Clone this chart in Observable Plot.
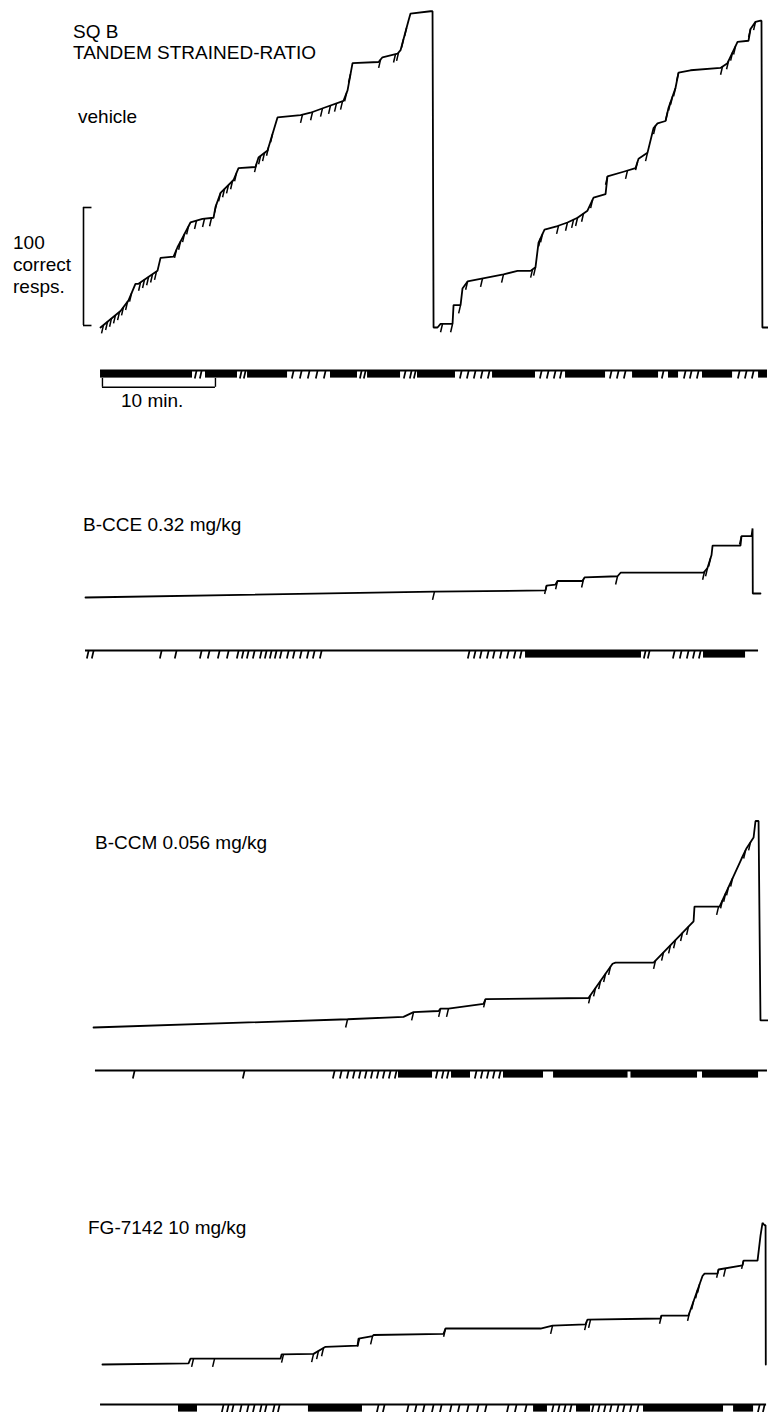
<!DOCTYPE html>
<html><head><meta charset="utf-8">
<script src="https://cdn.jsdelivr.net/npm/d3@7"></script>
<script src="https://cdn.jsdelivr.net/npm/@observablehq/plot@0.6"></script>
<style>
html,body{margin:0;padding:0;background:#fff;}
#page{position:relative;width:768px;height:1412px;overflow:hidden;font-family:"Liberation Sans",Arial,sans-serif;}
#page svg{position:absolute;left:0;top:0;overflow:visible;background:transparent;}
.lbl{position:absolute;font-size:19px;line-height:22px;color:#000;white-space:nowrap;}
</style></head><body><div id="page"></div>
<script>
// ---------- DATA (time in minutes, cumulative correct responses; pen resets shown as drops) ----------
const vehicleRecord = [[1.33,0],[3.10,14],[3.81,23],[4.42,37],[4.69,37],[6.37,48],[6.64,59],[7.79,60],[8.14,68],[8.58,76],[9.29,89],[10.35,92],[11.33,93],[11.50,102],[11.95,114],[13.10,125],[13.54,135],[15.04,136],[15.31,144],[16.11,150],[16.99,178],[19.03,180],[19.91,182],[21.06,186],[22.83,192],[23.19,201],[23.63,224],[25.93,225],[26.28,229],[27.61,232],[27.88,235],[28.58,260],[28.76,266],[30.53,268],[30.71,268],[30.80,0],[31.15,0],[31.42,3],[32.48,3],[32.57,19],[33.19,19],[33.36,33],[33.81,39],[36.99,45],[38.23,48],[39.38,48],[39.82,51],[40.09,72],[40.62,83],[41.77,86],[42.65,89],[43.54,93],[44.42,99],[44.96,110],[46.02,113],[46.19,128],[47.61,132],[48.67,135],[48.94,143],[49.73,148],[50.27,169],[50.62,173],[51.33,175],[51.59,186],[52.21,203],[52.48,216],[53.54,218],[56.19,220],[56.81,224],[57.70,242],[58.67,243],[58.85,253],[59.29,259],[59.73,260],[59.82,260],[59.90,0],[60.44,0]];
const vehiclePips = [1.59,1.95,2.30,2.65,3.01,3.36,3.72,4.07,4.87,5.22,5.58,5.93,6.28,8.05,8.41,8.76,9.12,9.82,10.53,11.15,11.59,11.95,12.30,12.65,13.01,13.36,15.13,15.49,15.84,16.19,16.55,19.20,20.09,20.97,21.68,22.21,22.74,23.10,23.45,26.11,27.43,27.70,28.14,28.41,31.59,32.48,33.19,33.81,35.13,36.99,39.56,39.82,40.27,40.44,41.86,42.65,43.19,43.54,44.07,44.87,46.19,47.96,48.85,49.73,50.44,51.50,51.77,51.95,52.21,52.48,56.37,56.90,57.26,57.52,58.85,59.29];
const vehicleEventLine = [1.33,60.35];
const vehicleEventBands = [[1.33,9.47],[10.62,13.45],[14.34,17.88],[21.68,24.07],[24.96,27.88],[29.38,32.74],[36.02,39.82],[42.48,46.02],[48.41,50.71],[51.59,52.48],[54.6,57.26],[59.56,60.35]];
const vehicleEventTicks = [9.73,10.18,13.72,14.07,18.32,19.03,19.73,20.44,21.15,24.34,24.69,28.23,28.76,29.12,33.19,33.81,34.42,35.04,35.66,40.27,40.88,41.50,42.04,46.46,47.08,47.70,51.06,53.01,53.54,54.16,57.79,58.41,59.03];

const bcceRecord = [[0,0],[30.88,5],[40.71,6],[40.80,10],[41.59,11],[41.77,14],[43.98,14],[44.16,17],[47.08,18],[47.35,21],[54.69,21],[55.04,25],[55.40,36],[55.49,44],[57.96,44],[58.05,52],[58.94,52],[59.03,58.5],[59.05,3.4],[59.73,3.4]];
const bccePips = [30.88,40.80,41.77,44.07,47.08,54.78,55.04,55.31,58.05];
const bcceEventLine = [0,59.56];
const bcceEventBands = [[38.94,49.2],[54.69,58.41]];
const bcceEventTicks = [0.18,0.62,6.64,7.96,10.18,10.88,11.77,12.57,13.45,13.89,14.34,14.87,15.49,15.93,16.37,16.81,17.26,17.88,18.41,19.03,19.65,20.18,20.80,33.89,34.42,34.96,35.58,36.11,36.73,37.35,37.96,38.50,49.47,49.82,52.04,52.65,53.27,53.81,54.34];

const bccmRecord = [[0.71,0],[23.19,7],[28.14,9],[29.03,13],[31.24,14],[31.42,16],[32.12,16],[35.22,20],[35.40,24],[44.51,25],[46.64,54],[46.90,55],[50.27,55],[53.81,90],[53.89,102.5],[56.11,102.5],[58.05,143],[58.50,152],[59.12,161],[59.29,175],[59.56,175],[59.73,6],[60.44,6]];
const bccmPips = [23.19,29.03,31.42,32.12,35.40,44.69,45.13,45.58,46.02,46.46,50.44,51.15,51.77,52.21,52.83,53.36,56.02,56.37,56.64,56.90,57.26,58.41,58.85];
const bccmEventLine = [0.88,60.35];
const bccmEventBands = [[27.70,30.71],[32.39,34.07],[36.99,40.53],[41.42,48.01],[48.27,54.16],[54.6,59.56]];
const bccmEventTicks = [4.25,13.98,21.95,22.57,23.19,23.72,24.25,24.78,25.31,25.84,26.37,26.90,27.43,31.06,31.59,32.04,34.51,35.04,35.58,36.11,36.64];

const fgRecord = [[1.50,0],[9.12,1],[9.29,5],[17.26,5],[17.35,8.5],[20.18,9],[21.24,15],[24.07,16],[24.16,22],[25.40,24],[25.49,25],[31.68,26],[31.86,30.5],[40.27,30.5],[41.33,33],[44.25,34],[44.42,38],[50.88,39],[50.97,41.5],[53.36,41.5],[54.60,75],[54.78,77],[55.93,77],[56.02,80.5],[58.14,84],[58.23,88],[59.47,88],[59.73,109],[59.91,120],[60.09,118],[60.18,118],[60.20,0]];
const fgPips = [9.56,11.42,17.52,20.18,20.62,21.06,24.25,25.40,31.86,41.33,44.34,44.69,50.97,53.45,53.81,54.16,54.34,56.02,56.64,58.23];
const fgEventLine = [1.33,60.27];
const fgEventBands = [[8.23,9.91],[19.73,24.51],[39.65,40.88],[43.45,44.69],[49.38,56.46],[57.35,59.12]];
const fgEventTicks = [12.12,12.57,13.01,13.72,14.34,14.87,15.49,15.93,16.64,17.08,25.84,26.37,28.5,29.2,29.91,30.71,31.42,32.3,33.01,33.81,34.69,35.4,37.35,38.05,38.94,41.33,41.86,42.39,42.92,44.87,45.4,45.93,46.46,47.08,47.61,48.23,48.85,59.56,60.0];

const panelTitles = [["SQ B","TANDEM STRAINED-RATIO"],["B-CCE 0.32 mg/kg"],["B-CCM 0.056 mg/kg"],["FG-7142 10 mg/kg"]];
const conditionLabel = "vehicle";
const responseScaleLabel = ["100","correct","resps."];
const responseScaleValue = 100;
const timeScaleLabel = "10 min.";
const timeScaleStart = 1.5;
const timeScaleMinutes = 10;
const sessionMinutes = 60.44;

// ---------- LAYOUT ----------
const W = 768, H = 1412;
const PX_PER_RESP = 1.18;
const X_RANGE = [85, 768];
const TICK_PX = 8;
const page = document.getElementById("page");

function cumAt(rec, t) {
  for (let i = 0; i < rec.length - 1; i++) {
    const [t0, r0] = rec[i], [t1, r1] = rec[i + 1];
    if (t >= t0 && t <= t1) return t1 === t0 ? r1 : r0 + (r1 - r0) * (t - t0) / (t1 - t0);
  }
  return rec[rec.length - 1][1];
}

function recordPlot(rec, pips, base, extra = []) {
  return Plot.plot({
    width: W, height: H, margin: 0,
    x: {domain: [0, sessionMinutes], range: X_RANGE, axis: null},
    y: {domain: [0, 100], range: [base, base - 100 * PX_PER_RESP], axis: null},
    marks: [
      Plot.line(rec, {x: d => d[0], y: d => d[1], stroke: "#000", strokeWidth: 1.8, strokeLinejoin: "miter"}),
      Plot.link(pips, {x1: t => t, y1: t => cumAt(rec, t), x2: t => t - 0.17, y2: t => cumAt(rec, t) - 7, stroke: "#000", strokeWidth: 1.5}),
      ...extra
    ]
  });
}

function eventPlot(line, bands, ticks, yLine, extra = []) {
  return Plot.plot({
    width: W, height: H, margin: 0,
    x: {domain: [0, sessionMinutes], range: X_RANGE, axis: null},
    y: {domain: [0, 1], range: [yLine, yLine + TICK_PX], axis: null},
    marks: [
      Plot.ruleY([0], {x1: line[0], x2: line[1], stroke: "#000", strokeWidth: 1.8}),
      Plot.rect(bands, {x1: d => d[0], x2: d => d[1], y1: () => 0, y2: () => 0.95, fill: "#000"}),
      Plot.link(ticks, {x1: t => t + 0.1, y1: () => 0, x2: t => t - 0.06, y2: () => 1, stroke: "#000", strokeWidth: 1.7}),
      ...extra
    ]
  });
}

const bracket = [
  Plot.ruleX([0], {y1: 0, y2: responseScaleValue, dx: -2, dy: -2, stroke: "#000", strokeWidth: 1.6}),
  Plot.ruleY([0, responseScaleValue], {x1: 0, x2: 0.75, dx: -2, dy: -2, stroke: "#000", strokeWidth: 1.6})
];
const timeBar = [
  Plot.ruleY([2.1], {x1: timeScaleStart, x2: timeScaleStart + timeScaleMinutes, stroke: "#000", strokeWidth: 1.4}),
  Plot.ruleX([timeScaleStart, timeScaleStart + timeScaleMinutes], {y1: 1.0, y2: 2.1, stroke: "#000", strokeWidth: 1.4}),
  Plot.text([timeScaleLabel], {x: timeScaleStart + timeScaleMinutes * 0.44, y: 3.75, fontSize: 19, fontFamily: "Liberation Sans, Arial, sans-serif", fill: "#000"})
];

const plots = [
  recordPlot(vehicleRecord, vehiclePips, 327, bracket),
  eventPlot(vehicleEventLine, vehicleEventBands, vehicleEventTicks, 370, timeBar),
  recordPlot(bcceRecord, bccePips, 597),
  eventPlot(bcceEventLine, bcceEventBands, bcceEventTicks, 650),
  recordPlot(bccmRecord, bccmPips, 1027),
  eventPlot(bccmEventLine, bccmEventBands, bccmEventTicks, 1070),
  recordPlot(fgRecord, fgPips, 1364),
  eventPlot(fgEventLine, fgEventBands, fgEventTicks, 1404)
];
for (const p of plots) page.appendChild(p);

function label(text, x, yCenter) {
  const d = document.createElement("div");
  d.className = "lbl";
  d.textContent = text;
  d.style.left = x + "px";
  d.style.top = (yCenter - 11) + "px";
  page.appendChild(d);
}
label(panelTitles[0][0], 73, 32);
label(panelTitles[0][1], 73, 53);
label(conditionLabel, 78, 117);
label(responseScaleLabel[0], 13, 243);
label(responseScaleLabel[1], 13, 265);
label(responseScaleLabel[2], 13, 287);
label(panelTitles[1][0], 83, 525);
label(panelTitles[2][0], 95, 843);
label(panelTitles[3][0], 88, 1228);
</script>
</body></html>
